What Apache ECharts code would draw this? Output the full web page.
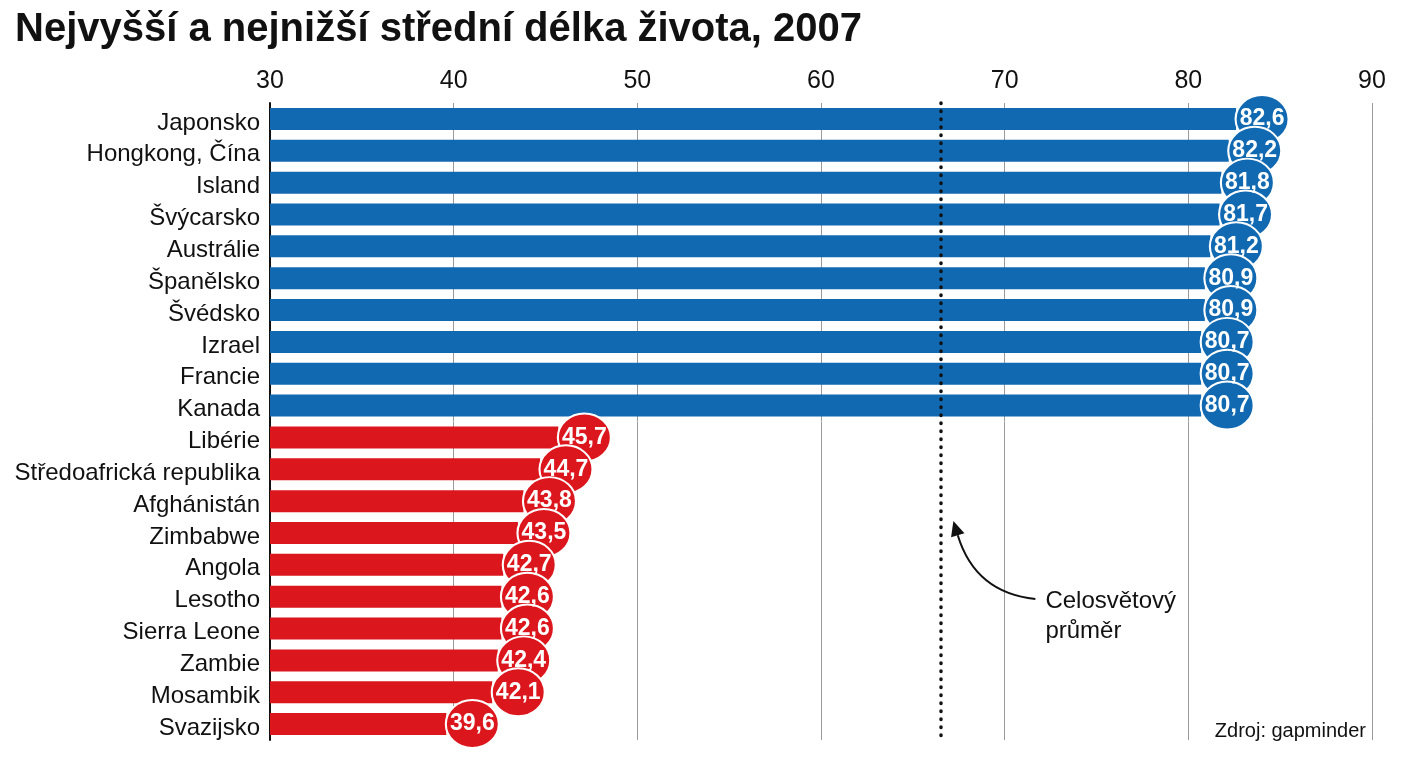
<!DOCTYPE html>
<html>
<head>
<meta charset="utf-8">
<script src="https://cdn.jsdelivr.net/npm/echarts@6/dist/echarts.min.js"></script>
<style>
  html, body { margin: 0; padding: 0; background: #fff; }
  #chart { width: 1408px; height: 768px; }
</style>
</head>
<body>
<div id="chart"></div>
<script>
// countries, top 10 and bottom 10
const countries = [
  'Japonsko', 'Hongkong, Čína', 'Island', 'Švýcarsko', 'Austrálie',
  'Španělsko', 'Švédsko', 'Izrael', 'Francie', 'Kanada',
  'Libérie', 'Středoafrická republika', 'Afghánistán', 'Zimbabwe', 'Angola',
  'Lesotho', 'Sierra Leone', 'Zambie', 'Mosambik', 'Svazijsko'
];
const lifeExpectancy = [
  82.6, 82.2, 81.8, 81.7, 81.2, 80.9, 80.9, 80.7, 80.7, 80.7,
  45.7, 44.7, 43.8, 43.5, 42.7, 42.6, 42.6, 42.4, 42.1, 39.6
];
const groupHigh = 10; // first 10 rows are the highest
const worldAverage = 66.5;
const xTicks = [30, 90, 10]; // min, max, step

const BLUE = '#1169b2';
const RED = '#dc161d';
const FONT = '"Liberation Sans Narrow", "Liberation Sans", Arial, sans-serif';

const colorOf = (i) => (i < groupHigh ? BLUE : RED);
const fmt = (v) => v.toFixed(1).replace('.', ',');
const badgeSize = [53, 48];
const badgeOffset = [26, 0];

const chart = echarts.init(document.getElementById('chart'));

chart.setOption({
  animation: false,
  title: {
    text: 'Nejvyšší a nejnižší střední délka života, 2007',
    left: 10,
    top: 5,
    textStyle: {
      fontFamily: '"Liberation Sans", Arial, sans-serif',
      fontWeight: 'bold',
      fontSize: 40,
      color: '#111'
    }
  },
  grid: { left: 270, right: 36, top: 103, bottom: 28, containLabel: false },
  xAxis: {
    type: 'value',
    position: 'top',
    min: xTicks[0],
    max: xTicks[1],
    interval: xTicks[2],
    axisLine: { show: false },
    axisTick: { show: false },
    axisLabel: { color: '#111', fontSize: 25, fontFamily: FONT, margin: 9 },
    splitLine: { show: true, lineStyle: { color: '#9a9a9a', width: 1 } }
  },
  yAxis: {
    type: 'category',
    inverse: true,
    data: countries,
    axisLine: { show: true, lineStyle: { color: '#111', width: 2 } },
    axisTick: { show: false },
    axisLabel: {
      margin: 10,
      formatter: (v) => '{c|' + v + '}',
      rich: {
        c: { color: '#111', fontSize: 24, fontFamily: FONT, padding: [8, 0, 0, 0] }
      }
    }
  },
  series: [
    {
      type: 'bar',
      barWidth: 22,
      data: lifeExpectancy.map((v, i) => ({ value: v, itemStyle: { color: colorOf(i) } })),
      markLine: {
        silent: true,
        symbol: 'none',
        label: { show: false },
        lineStyle: { color: '#111', width: 3.5, type: [0.5, 7.5], cap: 'round' },
        data: [{ xAxis: worldAverage }]
      }
    },
    {
      // value badges
      type: 'scatter',
      symbol: 'circle',
      symbolSize: badgeSize,
      symbolOffset: badgeOffset,
      data: lifeExpectancy.map((v, i) => ({
        value: [v, countries[i]],
        itemStyle: { color: colorOf(i), borderColor: '#fff', borderWidth: 2, opacity: 1 }
      })),
      z: 3
    },
    {
      // badge texts, drawn above all badges
      type: 'scatter',
      symbol: 'circle',
      symbolSize: badgeSize,
      symbolOffset: badgeOffset,
      silent: true,
      itemStyle: { color: 'rgba(0,0,0,0)', opacity: 1 },
      data: lifeExpectancy.map((v, i) => [v, countries[i]]),
      label: {
        show: true,
        position: 'inside',
        formatter: (p) => fmt(p.value[0]),
        color: '#fff',
        fontSize: 23,
        fontWeight: 'bold',
        fontFamily: FONT
      },
      z: 4
    }
  ]
});

// annotation for the world average line
const tip = chart.convertToPixel({ gridIndex: 0 }, [worldAverage, 'Zimbabwe']);
const tx = tip[0] + 13, ty = tip[1] - 12;
const sx = tx + 82, sy = ty + 78;
const cx = tx + 22, cy = ty + 72;
const dx = tx - cx, dy = ty - cy, len = Math.hypot(dx, dy);
const ux = dx / len, uy = dy / len;
const bx = tx - ux * 15, by = ty - uy * 15;
const px = -uy, py = ux;
const bottomRight = chart.convertToPixel({ gridIndex: 0 }, [xTicks[1], countries[countries.length - 1]]);

chart.setOption({
  graphic: [
    {
      type: 'bezierCurve',
      shape: { x1: sx, y1: sy, x2: bx, y2: by, cpx1: cx, cpy1: cy },
      style: { stroke: '#111', lineWidth: 2, fill: null }
    },
    {
      type: 'polygon',
      shape: { points: [[tx, ty], [bx + px * 7, by + py * 7], [bx - px * 7, by - py * 7]] },
      style: { fill: '#111' }
    },
    {
      type: 'text',
      left: sx + 10,
      top: sy - 13,
      style: {
        text: 'Celosvětový\nprůměr',
        font: '24px ' + FONT,
        fill: '#111',
        lineHeight: 30
      }
    },
    {
      type: 'text',
      right: 1408 - bottomRight[0] + 6,
      top: bottomRight[1] - 3,
      style: {
        text: 'Zdroj: gapminder',
        font: '20px ' + FONT,
        fill: '#111'
      }
    }
  ]
});
</script>
</body>
</html>
